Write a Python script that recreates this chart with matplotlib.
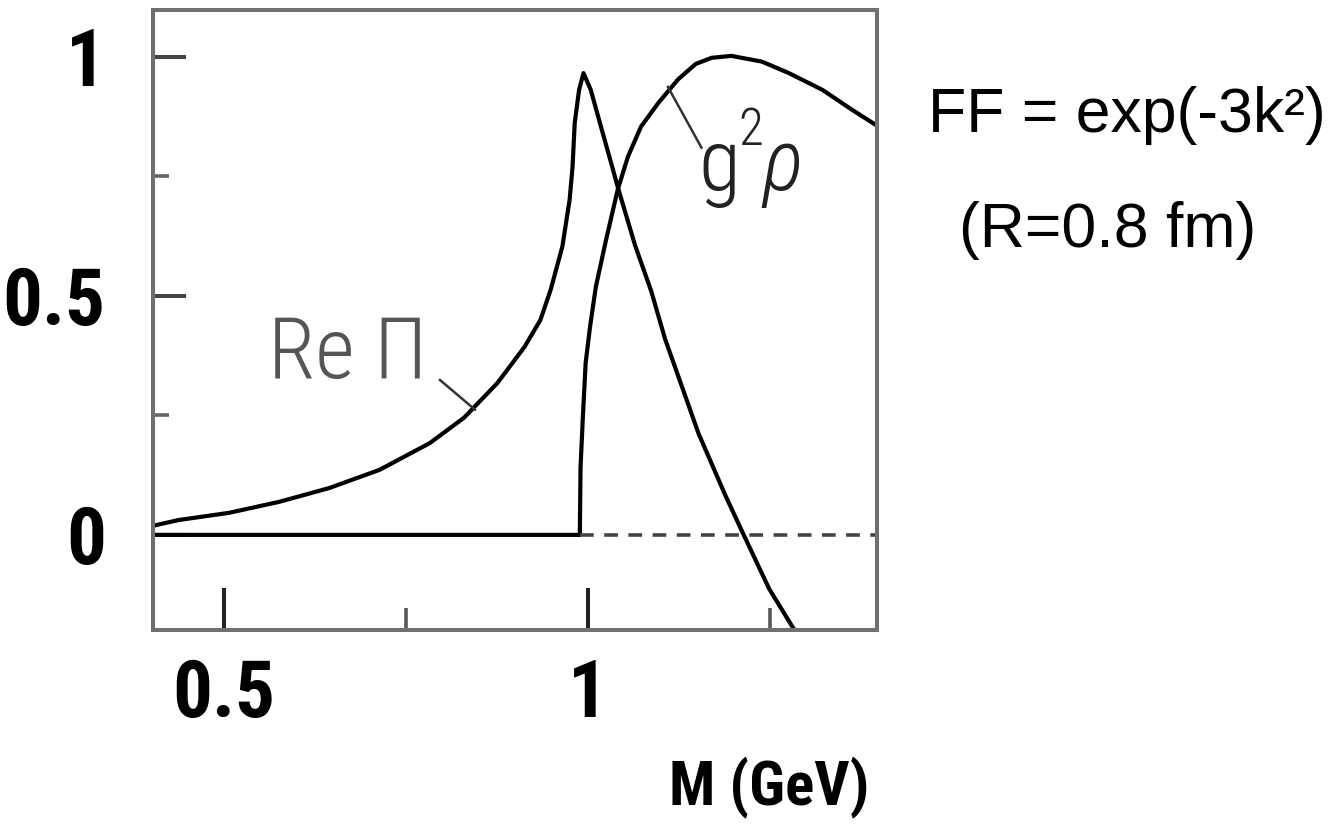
import matplotlib
matplotlib.use("Agg")
import matplotlib.pyplot as plt
from matplotlib import font_manager
from matplotlib.ticker import FixedLocator, NullFormatter

# Re Pi curve
re_pi_m = [0.403, 0.438, 0.507, 0.576, 0.645, 0.714, 0.783, 0.830, 0.876, 0.913,
           0.935, 0.949, 0.965, 0.975, 0.979, 0.982, 0.988, 0.994, 1.004, 1.018,
           1.032, 1.041, 1.065, 1.087, 1.106, 1.152, 1.189, 1.214, 1.249, 1.290]
re_pi = [0.019, 0.031, 0.046, 0.069, 0.098, 0.136, 0.192, 0.245, 0.318, 0.393,
         0.450, 0.513, 0.603, 0.701, 0.770, 0.862, 0.931, 0.966, 0.931, 0.854,
         0.778, 0.728, 0.605, 0.510, 0.410, 0.212, 0.082, 0.0, -0.113, -0.215]

# g^2 rho curve
rho_m = [0.403, 0.989, 0.990, 0.993, 0.997, 1.003, 1.011, 1.025, 1.041, 1.055,
         1.073, 1.097, 1.124, 1.148, 1.170, 1.197, 1.239, 1.276, 1.322, 1.363, 1.397]
rho = [0.0, 0.0, 0.142, 0.241, 0.360, 0.435, 0.519, 0.617, 0.722, 0.791,
       0.854, 0.904, 0.953, 0.985, 0.998, 1.002, 0.990, 0.966, 0.931, 0.889, 0.856]

x_major = [0.5, 1.0]
x_minor = [0.75, 1.25]
y_major = [0.0, 0.5, 1.0]
y_minor = [0.25, 0.75]
x_ticklabels = ["0.5", "1"]
y_ticklabels = ["0", "0.5", "1"]

names = {f.name for f in font_manager.fontManager.ttflist}


def pick(*cands):
    for c in cands:
        if c in names:
            return c
    return "DejaVu Sans"


NARROW = pick("Liberation Sans Narrow", "Roboto Condensed", "Open Sans Condensed", "Liberation Sans")
THIN = pick("Roboto Condensed", "Liberation Sans Narrow", "Roboto", "Liberation Sans")
REG = pick("Liberation Sans", "Arial", "DejaVu Sans")

fig = plt.figure(figsize=(13.44, 8.30), dpi=100)
ax = fig.add_axes([153 / 1344, 1 - 630 / 830, 724 / 1344, 620 / 830])
ax.set_xlim(0.403, 1.397)
ax.set_ylim(-0.199, 1.098)

ax.plot(re_pi_m, re_pi, color="black", lw=3.0, solid_joinstyle="round")
ax.plot(rho_m, rho, color="black", lw=3.0, solid_joinstyle="round")
ax.hlines(0, rho_m[1], ax.get_xlim()[1], color="#444444", lw=2.6,
          linestyle=(0, (3.8, 2.9)))

# leader lines for the labels
ax.plot([0.797, 0.845], [0.324, 0.262], color="#333333", lw=1.8)
ax.plot([1.110, 1.156], [0.937, 0.810], color="#333333", lw=1.8)

ax.text(0.561, 0.328, "Re \u03a0", family=[THIN, "DejaVu Sans"], weight="light",
        fontsize=62, color="#555555", ha="left", va="baseline")
ax.text(1.152, 0.722, "g", family=[THIN, "DejaVu Sans"], weight="light",
        fontsize=62, color="#222222", ha="left", va="baseline")
ax.text(1.206, 0.816, "2", family=[THIN, "DejaVu Sans"], weight="light",
        fontsize=37, color="#222222", ha="left", va="baseline")
ax.text(1.240, 0.722, "\u03c1", family=[THIN, "DejaVu Sans"], weight="light",
        style="italic", fontsize=62, color="#222222", ha="left", va="baseline")

for s in ax.spines.values():
    s.set_color("#707070")
    s.set_linewidth(2.9)

ax.xaxis.set_major_locator(FixedLocator(x_major))
ax.xaxis.set_minor_locator(FixedLocator(x_minor))
ax.yaxis.set_major_locator(FixedLocator(y_major))
ax.yaxis.set_minor_locator(FixedLocator(y_minor))
ax.set_xticklabels(x_ticklabels)
ax.set_yticklabels(y_ticklabels)
ax.xaxis.set_minor_formatter(NullFormatter())
ax.yaxis.set_minor_formatter(NullFormatter())

ax.tick_params(axis="x", which="major", direction="in", length=30, width=2.9,
               color="#222222", pad=20)
ax.tick_params(axis="x", which="minor", direction="in", length=16, width=2.6,
               color="#555555")
ax.tick_params(axis="y", which="major", direction="in", length=24, width=2.9,
               color="#444444", pad=34)
ax.tick_params(axis="y", which="minor", direction="in", length=11.5, width=2.6,
               color="#666666")
for lab in ax.get_xticklabels() + ax.get_yticklabels():
    lab.set_family([NARROW, "DejaVu Sans"])
    lab.set_fontweight("bold")
    lab.set_fontsize(57)

ax.set_xlabel("M (GeV)", family=[NARROW, "DejaVu Sans"], fontweight="bold",
              fontsize=44, ha="right", va="top")
ax.xaxis.set_label_coords(0.99, -0.205)

fig.text(1127 / 1344, 1 - 132 / 830, "FF = exp(-3k\u00b2)", family=[REG, "DejaVu Sans"],
         fontsize=45, ha="center", va="baseline")
fig.text(1108 / 1344, 1 - 247 / 830, "(R=0.8 fm)", family=[REG, "DejaVu Sans"],
         fontsize=45, ha="center", va="baseline")

fig.savefig("out.png", dpi=100, facecolor="white")
